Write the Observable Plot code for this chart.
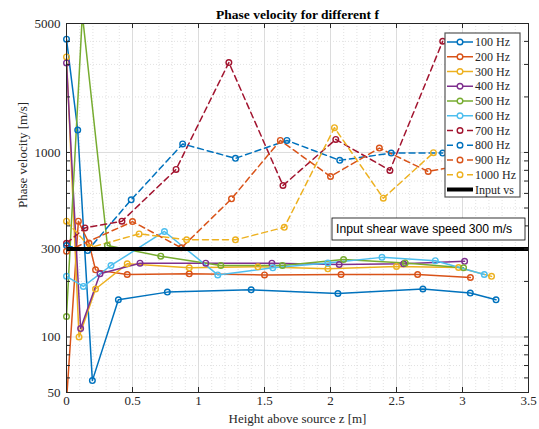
<!DOCTYPE html>
<html><head><meta charset="utf-8">
<script src="https://cdn.jsdelivr.net/npm/d3@7"></script>
<script src="https://cdn.jsdelivr.net/npm/@observablehq/plot@0.6"></script>
<style>body{margin:0;background:#fff}</style>
</head><body><div id="chart"></div>
<script>
// ---- data ----
const seriesNames = ["100 Hz","200 Hz","300 Hz","400 Hz","500 Hz","600 Hz","700 Hz","800 Hz","900 Hz","1000 Hz"];
const seriesColors = ["#0072BD","#D95319","#EDB120","#7E2F8E","#77AC30","#4DBEEE","#A2142F","#0072BD","#D95319","#EDB120"];
const seriesDashed = [false,false,false,false,false,false,true,true,true,true];

const z100 = [0, 0.085, 0.196, 0.393, 0.764, 1.399, 2.056, 2.70, 3.059, 3.254];
const v100 = [4110, 1323, 58, 159, 175, 180, 172, 182, 173, 159];
const z200 = [0, 0.09, 0.17, 0.22, 0.46, 0.93, 1.5, 2.08, 2.66, 3.06];
const v200 = [45, 424, 323, 231, 218, 220, 217, 218, 218, 210];
const z300 = [0, 0.095, 0.22, 0.46, 0.93, 1.45, 1.98, 2.5, 2.97, 3.22];
const v300 = [3295, 100, 182, 249, 237, 240, 234, 241, 238, 213];
const z400 = [0, 0.107, 0.254, 0.557, 1.055, 1.556, 2.066, 2.554, 3.016];
const v400 = [3056, 111, 220, 251, 251, 251, 247, 249, 257];
const z500 = [0, 0.12, 0.31, 0.714, 1.169, 1.636, 2.099, 2.566, 3.008];
const v500 = [129, 5600, 313, 274, 244, 244, 263, 252, 237];
const z600 = [0, 0.128, 0.337, 0.742, 1.146, 1.563, 1.98, 2.39, 2.794, 3.165];
const v600 = [213, 188, 244, 373, 217, 237, 252, 270, 259, 218];
const z700 = [0, 0.14, 0.42, 0.83, 1.23, 1.64, 2.04, 2.45, 2.85];
const v700 = [322, 390, 424, 809, 3071, 662, 1177, 799, 4007];
const z800 = [0, 0.16, 0.49, 0.88, 1.28, 1.67, 2.07, 2.46, 2.85];
const v800 = [313, 294, 554, 1112, 929, 1162, 906, 992, 992];
const z900 = [0, 0.5, 0.87, 1.25, 1.62, 2.0, 2.37, 2.74, 3.1];
const v900 = [291, 422, 304, 561, 1162, 741, 1056, 789, 880];
const z1000 = [0, 0.18, 0.55, 0.91, 1.28, 1.65, 2.03, 2.40, 2.78];
const v1000 = [424, 305, 362, 336, 336, 393, 1362, 565, 997];

const inputVs = [300];
const xTicks = [0, 0.5, 1, 1.5, 2, 2.5, 3, 3.5];
const yTicks = [50, 100, 300, 1000, 5000];
const yMinor = [60, 70, 80, 90, 200, 400, 500, 600, 700, 800, 900, 2000, 3000, 4000];
const titleText = "Phase velocity for different f";
const xLabel = "Height above source z [m]";
const yLabel = "Phase velocity [m/s]";
const noteText = "Input shear wave speed 300 m/s";
const legendVs = "Input vs";

// ---- build ----
const zs = [z100,z200,z300,z400,z500,z600,z700,z800,z900,z1000];
const vs = [v100,v200,v300,v400,v500,v600,v700,v800,v900,v1000];
const series = seriesNames.map((name,i)=>({
  name, color: seriesColors[i], dashed: seriesDashed[i],
  data: zs[i].map((z,j)=>({z, v: vs[i][j]}))
}));

const W = 539, H = 429, mL = 66, mR = 11, mT = 23, mB = 37;
const fw = W - mL - mR, fh = H - mT - mB;
const axisColor = "#262626";
const xMinor = d3.range(1, 35).map(d => d/10).filter(d => !xTicks.some(t => Math.abs(t-d) < 1e-9));
const DASH = "6,4";

const marks = [
  Plot.ruleX(xMinor, {stroke:"#d4d4d4", strokeDasharray:"1,2", strokeWidth:0.7}),
  Plot.ruleY(yMinor, {stroke:"#d4d4d4", strokeDasharray:"1,2", strokeWidth:0.7}),
  Plot.ruleX(xTicks, {stroke:"#dcdcdc", strokeWidth:1}),
  Plot.ruleY(yTicks, {stroke:"#dcdcdc", strokeWidth:1}),
];
for (const s of series) {
  marks.push(Plot.line(s.data, {x:"z", y:"v", stroke:s.color, strokeWidth:1.5,
    strokeDasharray: s.dashed ? DASH : null, clip:true}));
}
for (const s of series) {
  marks.push(Plot.dot(s.data, {x:"z", y:"v", r:2.8, stroke:s.color, strokeWidth:1.4, fill:"none",
    filter: d => d.v >= 50 && d.v <= 5000}));
}
marks.push(Plot.ruleY(inputVs, {stroke:"black", strokeWidth:4}));
// tick marks (inward)
marks.push(Plot.tickX(xTicks, {insetTop: fh-5, stroke:axisColor}));
marks.push(Plot.tickX(xTicks, {insetBottom: fh-5, stroke:axisColor}));
marks.push(Plot.tickY(yTicks.concat(yMinor), {insetRight: fw-4, stroke:axisColor}));
marks.push(Plot.tickY(yTicks.concat(yMinor), {insetLeft: fw-4, stroke:axisColor}));
marks.push(Plot.frame({stroke:axisColor, strokeWidth:1}));
marks.push(Plot.axisX(xTicks, {tickSize:0, tickPadding:3, label:null, tickFormat:d=>String(d), fill:axisColor}));
marks.push(Plot.axisY(yTicks, {tickSize:0, tickPadding:6, label:null, tickFormat:d=>String(d), fill:axisColor}));
marks.push(Plot.text([titleText], {frameAnchor:"top", lineAnchor:"middle", dy:-9, fontWeight:"bold", fontSize:13.5, fill:"black"}));
marks.push(Plot.text([xLabel], {frameAnchor:"bottom", lineAnchor:"middle", dy:26, fontSize:13, fill:axisColor}));
marks.push(Plot.text([yLabel], {frameAnchor:"left", lineAnchor:"middle", rotate:-90, dx:-44, fontSize:13, fill:axisColor}));

const svg = Plot.plot({
  width: W, height: H,
  marginLeft: mL, marginRight: mR, marginTop: mT, marginBottom: mB,
  x: {domain:[0,3.5]},
  y: {type:"log", domain:[50,5000]},
  style: {fontFamily:"'Liberation Serif', 'Times New Roman', serif", fontSize:"13px", background:"white", color:axisColor},
  marks
});

const root = d3.select(svg);
// annotation box
const note = root.append("g").attr("text-anchor","start");
note.append("rect").attr("x",332).attr("y",218).attr("width",193).attr("height",22)
  .attr("fill","white").attr("stroke","black").attr("stroke-width",0.8);
note.append("text").attr("x",336).attr("y",229).attr("dy","0.35em").attr("text-anchor","start")
  .attr("font-family","'Liberation Sans', Arial, sans-serif").attr("font-size",12.2).attr("fill","black")
  .text(noteText);

// legend
const lg = root.append("g").attr("text-anchor","start");
const lx = 445, ly = 33, lw = 75, lh = 164, rowH = 14.75, row0 = 42;
lg.append("rect").attr("x",lx).attr("y",ly).attr("width",lw).attr("height",lh)
  .attr("fill","white").attr("stroke","#555").attr("stroke-width",1.2);
series.forEach((s,i)=>{
  const y = row0 + i*rowH;
  if (s.dashed) {
    lg.append("line").attr("x1",lx+2).attr("x2",lx+8).attr("y1",y).attr("y2",y)
      .attr("stroke",s.color).attr("stroke-width",1.5);
    lg.append("line").attr("x1",lx+22).attr("x2",lx+28).attr("y1",y).attr("y2",y)
      .attr("stroke",s.color).attr("stroke-width",1.5);
  } else {
    lg.append("line").attr("x1",lx+2).attr("x2",lx+28).attr("y1",y).attr("y2",y)
      .attr("stroke",s.color).attr("stroke-width",1.5);
  }
  lg.append("circle").attr("cx",lx+15).attr("cy",y).attr("r",2.8)
    .attr("fill","white").attr("stroke",s.color).attr("stroke-width",1.4);
  lg.append("text").attr("x",lx+30).attr("y",y).attr("dy","0.35em").attr("text-anchor","start")
    .attr("font-family","'Liberation Serif', serif").attr("font-size",12).attr("fill",axisColor)
    .text(s.name);
});
{
  const y = row0 + 10*rowH;
  lg.append("line").attr("x1",lx+2).attr("x2",lx+28).attr("y1",y).attr("y2",y)
    .attr("stroke","black").attr("stroke-width",4);
  lg.append("text").attr("x",lx+30).attr("y",y).attr("dy","0.35em").attr("text-anchor","start")
    .attr("font-family","'Liberation Serif', serif").attr("font-size",12).attr("fill",axisColor)
    .text(legendVs);
}
document.getElementById("chart").appendChild(svg);
</script>
</body></html>
